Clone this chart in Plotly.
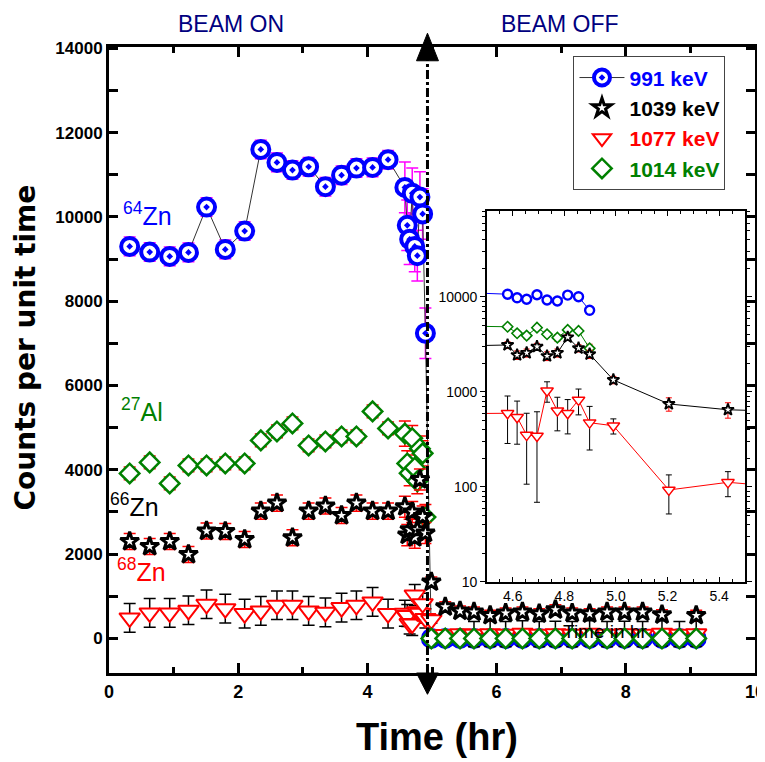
import plotly.graph_objects as go

# ---------------- data ----------------
T_ON = [0.32, 0.63, 0.94, 1.23, 1.51, 1.80, 2.10, 2.35, 2.60, 2.84, 3.09, 3.35, 3.60, 3.83, 4.08, 4.32]
T_CL = [4.58, 4.617, 4.654, 4.694, 4.733, 4.773, 4.813, 4.855, 4.898]
T_OFF = [4.99, 5.205, 5.434, 5.65, 5.90, 6.14, 6.40, 6.66, 6.91, 7.17, 7.44, 7.71, 7.98, 8.26, 8.56, 8.83, 9.09]
TIME = T_ON + T_CL + T_OFF

ZN64_991 = ([9300, 9165, 9063, 9158, 10233, 9229, 9663, 11600, 11293, 11110, 11190, 10716, 10990, 11158, 11174, 11357]
            + [10700, 9800, 9470, 10560, 9300, 9080, 10470, 10070, 7240]
            + [0] * 17)
ZN64_ERR = [220] * 16 + [600] * 9 + [0] * 17

ZN66_1039 = ([2301, 2183, 2301, 1993, 2546, 2538, 2349, 3020, 3210, 2389, 3020, 3139, 2918, 3210, 3020, 3020]
             + [3125, 2450, 2580, 3000, 2390, 2580, 3770, 2890, 2500]
             + [1340, 748, 650, 624, 546, 600, 624, 585, 680, 600, 585, 624, 624, 624, 562, None, 546])
ZN66_ERR = [190] * 16 + [250] * 9 + [120] * 17

ZN68_1077 = ([487, 605, 605, 668, 811, 707, 589, 652, 787, 787, 652, 620, 731, 787, 866, 589]
             + [597, 542, 352, 344, 1030, 635, 597, 824, 475]
             + [441, 93, 112, 100, 110, 100, 120, 100, 110, 100, 120, 100, 110, 100, 120, 100, 110])
ZN68_ERR = ([340] * 16
            + [310, 260, 245, 275, 250, 245, 235, 250, 230]
            + [80, 41, 33] + [300] * 14)

AL27_1014 = ([3915, 4176, 3677, 4104, 4104, 4152, 4152, 4698, 4911, 5101, 4579, 4674, 4792, 4792, 5386, 4982]
             + [4860, 4150, 3920, 4750, 4050, 3730, 4500, 4390, 2880]
             + [0] * 17)
AL27_ERR = [150] * 16 + [300] * 9 + [0] * 17

X_TICKS = [0, 2, 4, 6, 8, 10]
Y_TICKS = [0, 2000, 4000, 6000, 8000, 10000, 12000, 14000]
INSET_X_TICKS = [4.6, 4.8, 5.0, 5.2, 5.4]
INSET_Y_TICKS = [10, 100, 1000, 10000]
BEAM_OFF_T = 4.93

BLUE, RED, GREEN, BLACK, MAG = "#0000ff", "#ff0000", "#008000", "#000000", "#ff00ff"
FONT = "Liberation Sans, Arial, sans-serif"
WIDE = "DejaVu Sans, Liberation Sans, Arial, sans-serif"

fig = go.Figure()

# ---------------- main plot ----------------
def main_trace(y, err, name, symbol, size, lcol, lw, ecol, rank, mode="markers", line=None):
    fig.add_trace(go.Scatter(
        x=TIME, y=y, mode=mode, name=name, legendrank=rank,
        line=line if line else dict(width=1, color=BLACK),
        marker=dict(symbol=symbol, size=size, color="white", line=dict(color=lcol, width=lw)),
        error_y=dict(type="data", array=err, color=ecol, thickness=1.5, width=6),
        xaxis="x", yaxis="y", connectgaps=True))

main_trace(ZN64_991, ZN64_ERR, "<b><span style='color:#0000ff'>991 keV</span></b>",
           "circle-dot", 17, BLUE, 4, MAG, 1, mode="lines+markers", line=dict(width=1, color="#333333"))
main_trace(ZN68_1077, ZN68_ERR, "<b><span style='color:#ff0000'>1077 keV</span></b>",
           "triangle-down", 18, RED, 2, BLACK, 3)
main_trace(AL27_1014, AL27_ERR, "<b><span style='color:#008000'>1014 keV</span></b>",
           "diamond", 15, GREEN, 2.5, RED, 4)
main_trace(ZN66_1039, ZN66_ERR, "<b><span style='color:#000000'>1039 keV</span></b>",
           "star", 14, BLACK, 3, RED, 2)

# ---------------- inset ----------------
def inset_trace(y, err, symbol, size, col, lw, ecol):
    fig.add_trace(go.Scatter(
        x=TIME, y=[v if (v is not None and v > 0) else None for v in y],
        mode="lines+markers", showlegend=False, connectgaps=True,
        line=dict(width=1, color=col),
        marker=dict(symbol=symbol, size=size, color="white", line=dict(color=col, width=lw)),
        error_y=dict(type="data", array=err, color=ecol, thickness=1, width=3),
        xaxis="x2", yaxis="y2"))

inset_trace(ZN64_991, ZN64_ERR, "circle", 9, BLUE, 2.4, MAG)
inset_trace(ZN68_1077, ZN68_ERR, "triangle-down", 11, RED, 1.4, BLACK)
inset_trace(AL27_1014, AL27_ERR, "diamond", 8, GREEN, 1.6, RED)
inset_trace(ZN66_1039, ZN66_ERR, "star", 9, BLACK, 1.8, RED)

# ---------------- layout ----------------
# (the page body adds an 8px margin, compensated here)
fig.update_layout(
    width=757, height=754,
    margin=dict(l=101, r=10, t=39, b=89),
    paper_bgcolor="white", plot_bgcolor="white",
    font=dict(family=FONT, color="black"),
    showlegend=True,
    legend=dict(x=0.719, y=0.985, xanchor="left", yanchor="top",
                bgcolor="white", bordercolor="#444444", borderwidth=1,
                font=dict(size=21, family=FONT), itemsizing="trace", itemwidth=45,
                tracegroupgap=0),
    xaxis=dict(range=[0, 10], tickvals=X_TICKS, ticktext=[str(v) for v in X_TICKS],
               ticks="inside", ticklen=10, tickwidth=2.5, tickcolor="black",
               minor=dict(dtick=1, ticks="inside", ticklen=6, tickwidth=2.5, tickcolor="black"),
               showline=True, linewidth=3, linecolor="black", mirror="ticks",
               showgrid=False, zeroline=False, automargin=False, ticklabeloverflow="allow",
               tickfont=dict(size=18, weight="bold")),
    yaxis=dict(range=[-820, 14030], tickvals=Y_TICKS, ticktext=[str(v) for v in Y_TICKS],
               ticks="inside", ticklen=9, tickwidth=2.5, tickcolor="black",
               minor=dict(dtick=1000, ticks="inside", ticklen=9, tickwidth=2.5, tickcolor="black"),
               showline=True, linewidth=3, linecolor="black", mirror="ticks",
               showgrid=False, zeroline=False, automargin=False, ticklabeloverflow="allow",
               tickfont=dict(size=17, weight="bold")),
    xaxis2=dict(domain=[0.585, 0.9845], anchor="y2", range=[4.5, 5.5],
                tickvals=INSET_X_TICKS, ticktext=["%.1f" % v for v in INSET_X_TICKS],
                ticks="inside", ticklen=5, tickwidth=1, tickcolor="black",
                minor=dict(dtick=0.05, ticks="inside", ticklen=3, tickwidth=1, tickcolor="black"),
                showline=True, linewidth=1.5, linecolor="black", mirror="ticks",
                showgrid=False, zeroline=False, automargin=False, tickfont=dict(size=14)),
    yaxis2=dict(domain=[0.1454, 0.738], anchor="x2", type="log", range=[1, 4.905],
                tickvals=INSET_Y_TICKS, ticktext=[str(v) for v in INSET_Y_TICKS],
                ticks="outside", ticklen=5, tickwidth=1, tickcolor="black",
                minor=dict(dtick="D1", ticks="outside", ticklen=3, tickwidth=1, tickcolor="black"),
                showline=True, linewidth=1.5, linecolor="black", mirror="ticks",
                showgrid=False, zeroline=False, automargin=False, tickfont=dict(size=14)),
)

# beam-off marker line with arrows
fig.add_shape(type="line", xref="x", yref="paper", x0=BEAM_OFF_T, x1=BEAM_OFF_T, y0=0, y1=1,
              line=dict(color="black", width=3, dash="dashdot"))
hw = 0.17
fig.add_shape(type="path", xref="x", yref="paper",
              path=f"M {BEAM_OFF_T-hw},0.978 L {BEAM_OFF_T+hw},0.978 L {BEAM_OFF_T},1.022 Z",
              fillcolor="black", line=dict(color="black", width=1))
fig.add_shape(type="path", xref="x", yref="paper",
              path=f"M {BEAM_OFF_T-hw},0.0 L {BEAM_OFF_T+hw},0.0 L {BEAM_OFF_T},-0.034 Z",
              fillcolor="black", line=dict(color="black", width=1))

def ann(text, x, y, xref, yref, size, color, weight="normal", family=FONT, yanchor="middle", **kw):
    fig.add_annotation(text=text, x=x, y=y, xref=xref, yref=yref, showarrow=False,
                       xanchor="center", yanchor=yanchor,
                       font=dict(size=size, color=color, family=family, weight=weight), **kw)

ann("<sup>64</sup>Zn", 0.59, 10060, "x", "y", 25, BLUE)
ann("<sup>27</sup>Al", 0.51, 5410, "x", "y", 25, GREEN)
ann("<sup>66</sup>Zn", 0.40, 3155, "x", "y", 25, BLACK)
ann("<sup>68</sup>Zn", 0.50, 1613, "x", "y", 25, RED)
ann("BEAM ON", 0.189, 1.061, "paper", "paper", 23, "#000080", yanchor="top")
ann("BEAM OFF", 0.698, 1.061, "paper", "paper", 23, "#000080", yanchor="top")
ann("Time in hr", 0.768, 0.0655, "paper", "paper", 19, BLACK)
ann("Counts per unit time", -0.130, 0.52, "paper", "paper", 28, BLACK, weight="bold",
    family=WIDE, textangle=-90)
ann("Time (hr)", 0.508, -0.102, "paper", "paper", 38, BLACK, weight="bold")

fig.write_html("out.html")
